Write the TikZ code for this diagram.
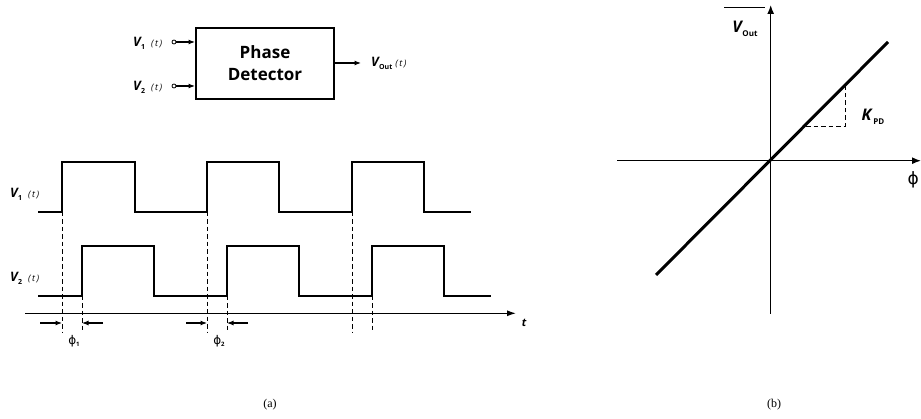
\documentclass[tikz,border=0pt]{standalone}
\usepackage{fontspec}
\setmainfont{Liberation Serif}
\newfontfamily\labfont{Open Sans}
\newfontfamily\phifont{DejaVu Sans}
\usetikzlibrary{arrows.meta}
\newcommand{\siglab}[1]{{\labfont\bfseries\itshape\fontsize{13}{13}\selectfont V}\kern0.3pt\raisebox{-3pt}{\labfont\bfseries\fontsize{7}{7}\selectfont #1}\hspace{6pt}{\labfont\itshape\fontsize{9}{9}\selectfont (\kern1.5pt t\kern1.5pt)}}
\begin{document}
\begin{tikzpicture}[x=1pt,y=-1pt,
  wave/.style={line width=2.2pt, line join=miter, line cap=butt},
  guide/.style={line width=0.9pt, dash pattern=on 4.5pt off 3pt},
  tipped/.style={line width=1.1pt, -{Latex[length=6.5pt,width=5pt]}},
  axis/.style={line width=1.3pt, -{Latex[length=9pt,width=7pt]}},
  lbl/.style={inner sep=0pt, anchor=west},
  blk/.style={draw, line width=2pt, minimum width=138pt, minimum height=71pt, align=center,
              font=\labfont\bfseries\fontsize{17}{22}\selectfont},
  pin/.style={circle, draw, line width=0.8pt, inner sep=0pt, minimum size=4pt}
]
\useasboundingbox (0,0) rectangle (921,419);

% ---------- block diagram ----------
\node[blk] (pd) at (265,63.5) {Phase\\Detector};
\node[pin] (in1) at (174,42) {};
\node[pin] (in2) at (174,86) {};
\coordinate (pdin1) at (pd.west |- in1);
\coordinate (pdin2) at (pd.west |- in2);
\draw[tipped] (in1) -- (pdin1);
\draw[tipped] (in2) -- (pdin2);
\node[lbl] (l1) at (133,43) {\siglab{1}};
\node[lbl] (l2) at (133,87) {\siglab{2}};
\coordinate (outend) at (361,63);
\draw[tipped] (pd.east |- outend) -- (outend);
\node[lbl] (lout) at (371,63) {{\labfont\bfseries\itshape\fontsize{13}{13}\selectfont V}\kern0.3pt\raisebox{-3pt}{\labfont\bfseries\fontsize{7}{7}\selectfont Out}\hspace{3pt}{\labfont\itshape\fontsize{9}{9}\selectfont (\kern1.5pt t\kern1.5pt)}};

% ---------- waveforms ----------
\draw[wave] (38,211.7) -- (62,211.7) -- (62,161.7) -- (135,161.7) -- (135,211.7) -- (207,211.7) -- (207,161.7)
  -- (279,161.7) -- (279,211.7) -- (352,211.7) -- (352,161.7) -- (424,161.7) -- (424,211.7) -- (471,211.7);
\draw[wave] (38,295.7) -- (82,295.7) -- (82,246) -- (154,246) -- (154,295.7) -- (227,295.7) -- (227,246)
  -- (299,246) -- (299,295.7) -- (372,295.7) -- (372,246) -- (444,246) -- (444,295.7) -- (491,295.7);
\node[lbl] (w1) at (10,194) {\siglab{1}};
\node[lbl] (w2) at (10,278) {\siglab{2}};

\coordinate (tstart) at (25,313.3);
\coordinate (tend) at (516,313.3);
\draw[line width=1.2pt, -{Latex[length=9pt,width=6pt]}] (tstart) -- (tend);
\node[inner sep=0pt] (tl) at (524,323) {\labfont\bfseries\itshape\fontsize{11}{11}\selectfont t};

\foreach \x/\top in {62/211.7, 207/211.7, 352/211.7, 82/295.7, 227/295.7, 372/295.7}{
  \draw[guide] (\x,\top) -- (\x,333);
}

\draw[tipped] (40,323) -- (62,323);
\draw[tipped] (103,323) -- (82,323);
\draw[tipped] (186,323) -- (207,323);
\draw[tipped] (248,323) -- (227,323);
\node[inner sep=0pt] (p1) at (74,341) {{\phifont\fontsize{12}{12}\selectfont ϕ}\raisebox{-2.5pt}{\labfont\bfseries\fontsize{6}{6}\selectfont 1}};
\node[inner sep=0pt] (p2) at (219,341) {{\phifont\fontsize{12}{12}\selectfont ϕ}\raisebox{-2.5pt}{\labfont\bfseries\fontsize{6}{6}\selectfont 2}};

% ---------- transfer characteristic ----------
\coordinate (o) at (770.7,160.7);
\coordinate (ybot) at (770.7,314);
\coordinate (ytop) at (770.7,5);
\coordinate (xl) at (617,160.7);
\coordinate (xr) at (921,160.7);
\draw[axis] (ybot) -- (ytop);
\draw[axis] (xl) -- (xr);
\draw[line width=3pt] (656,275) -- (888,42);
\draw[guide] (806,126) -- (845,126) -- (845,86);
\node[inner sep=0pt] (kpd) at (873,117) {{\labfont\bfseries\itshape\fontsize{16}{16}\selectfont K}\kern2pt\raisebox{-4pt}{\labfont\bfseries\fontsize{8}{8}\selectfont PD}};
\node[inner sep=0pt] (vo) at (745,29) {{\labfont\bfseries\itshape\fontsize{16}{16}\selectfont V}\kern0.5pt\raisebox{-4pt}{\labfont\bfseries\fontsize{8}{8}\selectfont Out}};
\draw[line width=0.9pt] (724,7) -- (765,7);
\node[inner sep=0pt, anchor=east] (phi) at (919,180) {\phifont\fontsize{17}{17}\selectfont ϕ};

% ---------- captions ----------
\node (ca) at (270,405) {\fontsize{12}{12}\selectfont (a)};
\node (cb) at (774,405) {\fontsize{12}{12}\selectfont (b)};
\end{tikzpicture}
\end{document}
